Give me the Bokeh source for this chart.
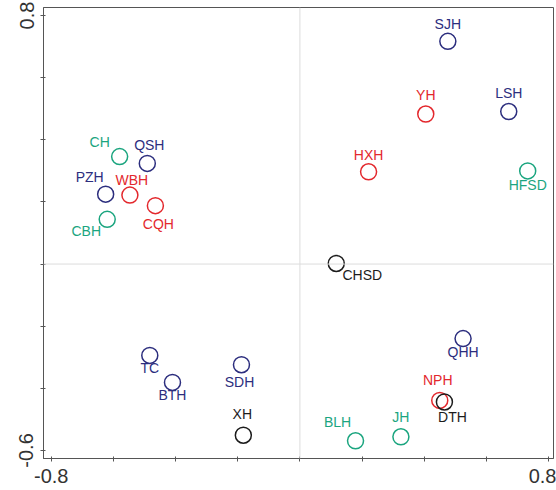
from bokeh.plotting import figure
from bokeh.models import ColumnDataSource, FixedTicker, Span, Range1d
from bokeh.core.properties import value
from bokeh.embed import file_html
from bokeh.resources import INLINE

# ---- data ----
sites = ["SJH", "YH", "LSH", "HXH", "HFSD", "CH", "QSH", "PZH", "WBH", "CQH", "CBH",
         "CHSD", "QHH", "NPH", "DTH", "BLH", "JH", "TC", "BTH", "SDH", "XH"]
xs = [0.476, 0.405, 0.672, 0.221, 0.733, -0.580, -0.491, -0.625, -0.547, -0.465, -0.620,
      0.117, 0.525, 0.450, 0.465, 0.179, 0.325, -0.483, -0.410, -0.188, -0.182]
ys = [0.717, 0.483, 0.491, 0.297, 0.300, 0.346, 0.324, 0.225, 0.222, 0.188, 0.144,
      0.002, -0.240, -0.439, -0.444, -0.569, -0.556, -0.294, -0.381, -0.324, -0.551]
groups = ["blue", "red", "blue", "red", "green", "green", "blue", "blue", "red", "red", "green",
          "black", "blue", "red", "black", "green", "green", "blue", "blue", "blue", "black"]
x_ticks_labelled = [-0.8, 0.8]
x_tick_labels = ["-0.8", "0.8"]
x_ticks_minor = [-0.6, -0.4, -0.2, 0.0, 0.2, 0.4, 0.6]
y_ticks_labelled = [-0.6, 0.8]
y_tick_labels = ["-0.6", "0.8"]
y_ticks_minor = [-0.4, -0.2, 0.0, 0.2, 0.4, 0.6]

# ---- styling ----
palette = {"blue": "#2c2e7e", "red": "#e3282d", "green": "#1ba57f", "black": "#1c1c1c"}
# label offsets in screen pixels (dx, dy; dy positive = downward)
lab_dx = [0, 0, 0, 0, 0, -20, 2, -16, 2, 3, -21, 26, 0, -2, 8, -18, 0, 0, 0, -2, -1]
lab_dy = [-17, -19, -19, -17, 14, -15, -18, -17, -15, 18, 12, 12, 13, -20, 15, -19, -20, 13, 13, 17, -21]

colors = [palette[g] for g in groups]
src = ColumnDataSource(dict(x=xs, y=ys, name=sites, color=colors, dx=lab_dx, dy=lab_dy))

p = figure(width=556, height=490, output_backend="svg", toolbar_location=None,
           x_range=Range1d(-0.825, 0.816), y_range=Range1d(-0.626, 0.826),
           min_border_left=43, min_border_right=3, min_border_top=7, min_border_bottom=32)
p.grid.visible = False
p.outline_line_color = "#555555"
p.outline_line_width = 1
p.background_fill_color = "white"
p.border_fill_color = "white"

p.add_layout(Span(location=0, dimension="width", line_color="#dcdcdc", line_width=1))
p.add_layout(Span(location=0, dimension="height", line_color="#dcdcdc", line_width=1))

p.scatter("x", "y", source=src, size=16, fill_color=None, line_color="color", line_width=1.5)
p.text("x", "y", text="name", source=src, x_offset="dx", y_offset="dy",
       text_color="color", text_font=value("Liberation Sans"), text_font_size="14px",
       text_align="center", text_baseline="middle")

p.xaxis.ticker = FixedTicker(ticks=x_ticks_labelled, minor_ticks=x_ticks_minor)
p.yaxis.ticker = FixedTicker(ticks=y_ticks_labelled, minor_ticks=y_ticks_minor)
p.xaxis.major_label_overrides = dict(zip(x_ticks_labelled, x_tick_labels))
p.yaxis.major_label_overrides = dict(zip(y_ticks_labelled, y_tick_labels))
for ax in (p.xaxis[0], p.yaxis[0]):
    ax.axis_line_color = "#555555"
    ax.major_tick_line_color = "#555555"
    ax.minor_tick_line_color = "#555555"
    ax.major_tick_in = 2
    ax.major_tick_out = 3
    ax.minor_tick_in = 2
    ax.minor_tick_out = 3
    ax.major_label_text_font = "Liberation Sans"
    ax.major_label_text_font_size = "20px"
    ax.major_label_text_color = "#333333"
p.xaxis.major_label_standoff = 7
p.yaxis.major_label_standoff = 7
p.yaxis.major_label_orientation = "vertical"

open("out.html", "w").write(file_html(p, INLINE))
